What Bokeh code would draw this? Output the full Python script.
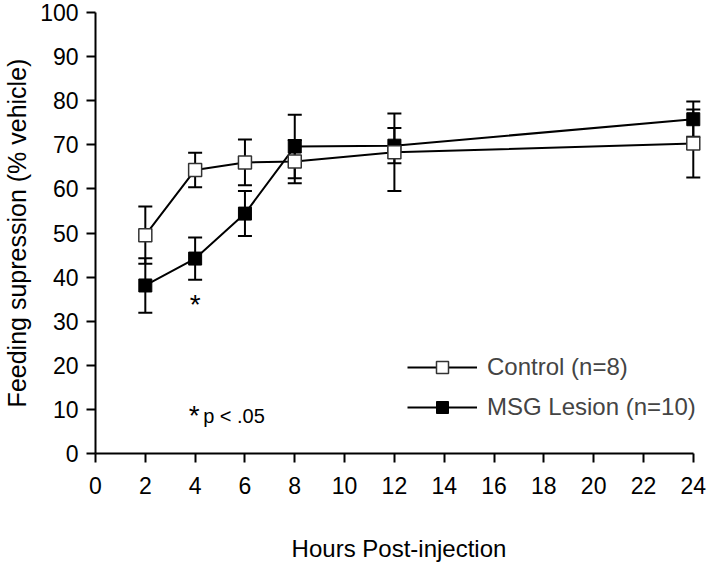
from bokeh.plotting import figure
from bokeh.models import (Range1d, Whisker, TeeHead, ColumnDataSource, Legend,
                          LegendItem, Label, FixedTicker)
from bokeh.embed import file_html
from bokeh.resources import INLINE

# ---- data ----
hours = [2, 4, 6, 8, 12, 24]
control = [49.5, 64.3, 66.0, 66.2, 68.3, 70.3]
control_err = [6.5, 3.9, 5.2, 4.9, 8.8, 7.7]
msg = [38.1, 44.2, 54.4, 69.6, 69.8, 75.8]
msg_err = [6.2, 4.8, 5.1, 7.2, 4.0, 4.0]
x_ticks = [0, 2, 4, 6, 8, 10, 12, 14, 16, 18, 20, 22, 24]
y_ticks = [0, 10, 20, 30, 40, 50, 60, 70, 80, 90, 100]

FONT = "Liberation Sans"

src_c = ColumnDataSource(dict(
    x=hours, y=control,
    upper=[v + e for v, e in zip(control, control_err)],
    lower=[v - e for v, e in zip(control, control_err)]))
src_m = ColumnDataSource(dict(
    x=hours, y=msg,
    upper=[v + e for v, e in zip(msg, msg_err)],
    lower=[v - e for v, e in zip(msg, msg_err)]))

p = figure(width=710, height=564, x_range=Range1d(0, 24.37), y_range=Range1d(0, 100),
           output_backend="svg", toolbar_location=None,
           min_border_left=88, min_border_right=8, min_border_top=12, min_border_bottom=100)
p.outline_line_color = None
p.xgrid.visible = False
p.ygrid.visible = False

for ax in (p.xaxis[0], p.yaxis[0]):
    ax.axis_line_width = 2
    ax.axis_line_color = "black"
    ax.major_tick_line_width = 2
    ax.major_tick_line_color = "black"
    ax.major_tick_out = 9
    ax.major_tick_in = 0
    ax.minor_tick_line_color = None
    ax.major_label_text_font = FONT
    ax.major_label_text_font_size = "23px"
    ax.major_label_text_color = "black"
    ax.axis_label_text_font = FONT
    ax.axis_label_text_font_style = "normal"
    ax.axis_label_text_color = "black"

p.xaxis.ticker = FixedTicker(ticks=x_ticks)
p.xaxis.bounds = (0, 24)
p.xaxis.major_label_standoff = 14
p.xaxis.axis_label = "Hours Post-injection"
p.xaxis.axis_label_text_font_size = "24px"
p.xaxis.axis_label_standoff = 38

p.yaxis.ticker = FixedTicker(ticks=y_ticks)
p.yaxis.major_label_standoff = 8
p.yaxis.axis_label = "Feeding supression (% vehicle)"
p.yaxis.axis_label_text_font_size = "25px"
p.yaxis.axis_label_standoff = 6

# error bars
for src in (src_m, src_c):
    w = Whisker(source=src, base="x", upper="upper", lower="lower", dimension="height",
                line_width=2, line_color="black",
                upper_head=TeeHead(size=14, line_width=2, line_color="black"),
                lower_head=TeeHead(size=14, line_width=2, line_color="black"))
    p.add_layout(w)

l_m = p.line("x", "y", source=src_m, line_width=2, line_color="black")
l_c = p.line("x", "y", source=src_c, line_width=2, line_color="black")
s_m = p.scatter("x", "y", source=src_m, marker="square", size=13,
                fill_color="black", line_color="black", line_width=1)
s_c = p.scatter("x", "y", source=src_c, marker="square", size=13,
                fill_color="white", line_color="#333333", line_width=1.5)

legend = Legend(items=[LegendItem(label="Control (n=8)", renderers=[l_c, s_c]),
                       LegendItem(label="MSG Lesion (n=10)", renderers=[l_m, s_m])],
                location=(312, 31), glyph_width=70, glyph_height=30, label_height=30,
                label_standoff=10, spacing=10, padding=0, margin=0,
                label_text_font=FONT, label_text_font_size="24px",
                border_line_color=None, background_fill_alpha=0)
p.add_layout(legend, "center")

p.add_layout(Label(x=4, y=33.8, text="*", text_align="center", text_baseline="alphabetic",
                   text_font=FONT, text_font_size="28px", text_color="black"))
p.add_layout(Label(x=4, y=8.6, x_offset=-1, text="*", text_align="center",
                   text_baseline="alphabetic", text_font=FONT, text_font_size="28px",
                   text_color="black"))
p.add_layout(Label(x=4, y=8.6, x_offset=8, text="p < .05", text_align="left",
                   text_baseline="alphabetic", text_font=FONT, text_font_size="20px",
                   text_color="black"))

open("out.html", "w").write(file_html(p, INLINE))
